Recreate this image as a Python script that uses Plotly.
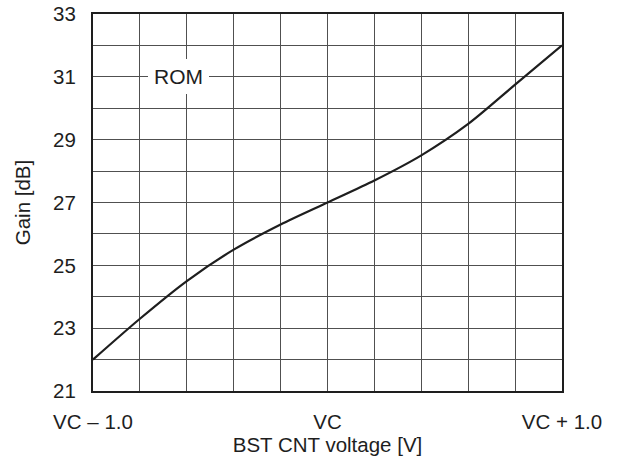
import plotly.graph_objects as go

# BST CNT voltage offset from VC [V] and measured gain [dB]
voltage = [-1.0, -0.8, -0.6, -0.4, -0.2, 0.0, 0.2, 0.4, 0.6, 0.8, 1.0]
gain_db = [22.0, 23.3, 24.5, 25.5, 26.3, 27.0, 27.7, 28.5, 29.5, 30.75, 32.0]

x_ticks = [-1.0, -0.8, -0.6, -0.4, -0.2, 0.0, 0.2, 0.4, 0.6, 0.8, 1.0]
x_tick_text = ["VC \u2013 1.0", "", "", "", "", "VC", "", "", "", "", "VC + 1.0"]
y_ticks = list(range(21, 34))
y_tick_text = [str(v) if v % 2 == 1 else "" for v in y_ticks]

FONT = "Liberation Sans, Arial, Helvetica, sans-serif"
INK = "#1e1e1e"
GRID = "#505050"

fig = go.Figure(
    go.Scatter(
        x=voltage,
        y=gain_db,
        mode="lines",
        line=dict(color=INK, width=2.2, shape="spline", smoothing=0.8),
        showlegend=False,
        hoverinfo="skip",
    )
)

fig.add_annotation(
    x=-0.635, y=31, xref="x", yref="y",
    text="ROM", showarrow=False,
    font=dict(family=FONT, size=21, color=INK),
    bgcolor="white", borderpad=6, borderwidth=0,
)

fig.update_xaxes(
    range=[-1.0, 1.0],
    tickvals=x_ticks, ticktext=x_tick_text,
    showgrid=True, gridcolor=GRID, gridwidth=1,
    showline=True, linecolor=INK, linewidth=2, mirror=True,
    ticks="", ticklabelstandoff=11,
    zeroline=False, automargin=False,
    tickfont=dict(family=FONT, size=20.5, color=INK),
    title=dict(text="BST CNT voltage [V]", standoff=6,
               font=dict(family=FONT, size=20.5, color=INK)),
)
fig.update_yaxes(
    range=[21, 33],
    tickvals=y_ticks, ticktext=y_tick_text,
    showgrid=True, gridcolor=GRID, gridwidth=1,
    showline=True, linecolor=INK, linewidth=2, mirror=True,
    ticks="", ticklabelstandoff=11,
    zeroline=False, automargin=False,
    tickfont=dict(family=FONT, size=20.5, color=INK),
    title=dict(text="Gain [dB]", standoff=17,
               font=dict(family=FONT, size=20.5, color=INK)),
)

fig.update_layout(
    width=619, height=459,
    margin=dict(l=93, r=57, t=14, b=68),
    paper_bgcolor="white", plot_bgcolor="white",
)

fig.write_html("out.html")
